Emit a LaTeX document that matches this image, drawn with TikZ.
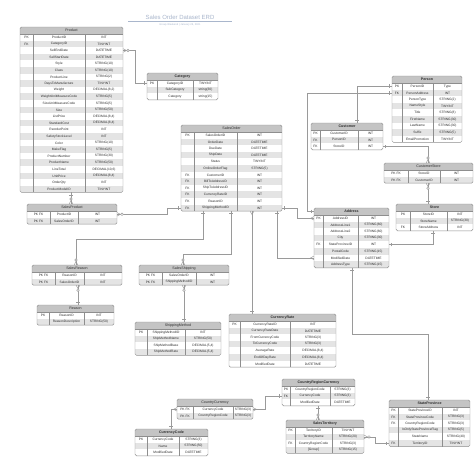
\documentclass[tikz,border=0pt]{standalone}
\usepackage{fontspec}
\setmainfont{Liberation Sans}
\definecolor{framegray}{HTML}{8E8E8E}
\definecolor{headgray}{HTML}{C4C4C4}
\definecolor{rowgray}{HTML}{E4E4E4}
\definecolor{textgray}{HTML}{2E2E2E}
\definecolor{linegray}{HTML}{9A9A9A}
\definecolor{titleblue}{HTML}{A9B6CC}

\tikzset{
  conn/.style={draw=linegray, line width=0.45pt},
  headtext/.style={inner sep=0pt, text=textgray, font=\fontsize{3.6}{4.2}\selectfont},
  celltext/.style={inner sep=0pt, text=textgray, font=\fontsize{3.25}{3.8}\selectfont},
  one/.pic={\draw[conn] (-2.5,-1.8) -- (-2.5,1.8);},
  many/.pic={\draw[conn] (0,-1.8) -- (-3.5,0) -- (0,1.8);},
  zmany/.pic={\draw[conn] (0,-1.8) -- (-3.5,0) -- (0,1.8); \draw[conn, fill=white] (-5,0) circle (1.3);},
}

% name, title, x left, x key|name, x name|type, x right, y top, rows, list
\newcommand{\erdtable}[9]{%
  \pgfmathsetmacro\ytabh{#7+7}%
  \pgfmathsetmacro\ytabb{#7+7+#8*6.6}%
  \begin{scope}
    \clip[rounded corners=1.5] (#3,#7) rectangle (#6,\ytabb);
    \fill[white] (#3,#7) rectangle (#6,\ytabb);
    \fill[headgray] (#3,#7) rectangle (#6,\ytabh);
    \foreach \i in {1,...,#8} {
      \ifodd\i\relax\else
        \fill[rowgray] (#3,{\ytabh+(\i-1)*6.6}) rectangle (#6,{\ytabh+\i*6.6});
      \fi
    }
  \end{scope}
  \draw[framegray, line width=0.35pt] (#4,\ytabh) -- (#4,\ytabb) (#5,\ytabh) -- (#5,\ytabb) (#3,\ytabh) -- (#6,\ytabh);
  \draw[framegray, line width=0.45pt, rounded corners=1.5] (#3,#7) rectangle (#6,\ytabb);
  \node[headtext] (#1) at ({(#3+#6)/2},{#7+3.5}) {#2};
  \coordinate (#1-nw) at (#3,#7);
  \coordinate (#1-sw) at (#3,\ytabb);
  \coordinate (#1-h-w) at (#3,{#7+3.5});
  \foreach \k/\n/\t [count=\i] in {#9} {
    \pgfmathsetmacro\yc{\ytabh+(\i-0.5)*6.6}
    \coordinate (#1-r\i-w) at (#3,\yc);
    \coordinate (#1-r\i-e) at (#6,\yc);
    \node[celltext] (#1-k\i) at ({(#3+#4)/2},\yc) {\k};
    \node[celltext] (#1-n\i) at ({(#4+#5)/2},\yc) {\n};
    \node[celltext] (#1-t\i) at ({(#5+#6)/2},\yc) {\t};
  }
}

\begin{document}
\begin{tikzpicture}[x=1pt, y=-1pt]
  \useasboundingbox[fill=white] (0,0) rectangle (474,470);

  % the title
  \node[font=\fontsize{6}{7}\selectfont, text=titleblue] (title) at (180,17.5) {Sales Order Dataset ERD};
  \coordinate (rule-l) at (128,21.5);
  \coordinate (rule-r) at (232,21.5);
  \draw[titleblue, line width=0.5pt] (rule-l) -- (rule-r);
  \node[font=\fontsize{2.6}{3}\selectfont, text=titleblue] (subtitle) at (180,25) {Group Weekend \textbar{} January 26, 2021};

  % the tables
  \erdtable{Product}{Product}{20}{33}{85}{123}{27}{24}{PK/ProductID/INT, FK/CategoryID/TINYINT, /SellEndDate/DATETIME, /SellStartDate/DATETIME, /Style/STRING(10), /Class/STRING(10), /ProductLine/STRING(2), /DaysToManufacture/TINYINT, /Weight/{DECIMAL(8,2)}, /WeightUnitMeasureCode/STRING(5), /SizeUnitMeasureCode/STRING(5), /Size/STRING(50), /ListPrice/{DECIMAL(8,4)}, /StandardCost/{DECIMAL(8,4)}, /ReorderPoint/INT, /SafetyStockLevel/INT, /Color/STRING(10), /MakeFlag/STRING(5), /ProductNumber/STRING(30), /ProductName/STRING(50), /LineTotal/{DECIMAL(10,6)}, /UnitPrice/{DECIMAL(8,4)}, /OrderQty/INT, /ProductModelID/TINYINT}
  \erdtable{Category}{\textbf{Category}}{147}{157}{193}{218}{73}{3}{PK/CategoryID/TINYINT, /SubCategory/string(30), /Category/string(15)}
  \erdtable{SalesOrder}{SalesOrder}{181}{194}{237}{282}{125}{12}{PK/SalesOrderID/INT, /OrderDate/DATETIME, /DueDate/DATETIME, /ShipDate/DATETIME, /Status/TINYINT, /OnlineOrderFlag/STRING(5), FK/CustomerID/INT, FK/BillToAddressID/INT, FK/ShipToAddressID/INT, FK/CurrencyRateID/INT, FK/ReasonID/INT, FK/ShippingMethodID/INT}
  \erdtable{Person}{\textbf{Person}}{392}{402}{433}{462}{76}{9}{PK/PersonID/Type, FK/PersonAddress/INT, /PersonType/STRING(2), /NameStyle/TINYINT, /Title/STRING(8), /FirstName/STRING(30), /LastName/STRING(30), /Suffix/STRING(5), /EmailPromotion/TINYINT}
  \erdtable{Customer}{\textbf{Customer}}{311}{320}{358}{383}{123}{3}{PK/CustomerID/INT, FK/PersonID/INT, FK/StoreID/INT}
  \erdtable{CustomerStore}{CustomerStore}{384}{408}{440}{473}{163}{2}{PK FK/StoreID/INT, PK FK/CustomerID/INT}
  \erdtable{Store}{\textbf{Store}}{396}{410}{447}{473}{204}{3}{PK/StoreID/INT, /StoreName/STRING(30), FK/StoreAddress/INT}
  \erdtable{Address}{\textbf{Address}}{314}{323}{358}{389}{208}{8}{PK/AddressID/INT, /AddressLine1/STRING(60), /AddressLine2/STRING(60), /City/STRING(30), FK/StateProvinceID/INT, /PostalCode/STRING(15), /ModifiedDate/DATETIME, /AddressType/STRING(15)}
  \erdtable{SalesProduct}{SalesProduct}{27}{50}{78}{117}{204}{2}{PK FK/ProductID/INT, PK FK/SalesOrderID/INT}
  \erdtable{SalesReason}{SalesReason}{32}{55}{84}{122}{265}{2}{PK FK/ReasonID/INT, PK FK/SalesOrderID/INT}
  \erdtable{Reason}{Reason}{37}{49}{84}{114}{305}{2}{PK/ReasonID/INT, /ReasonDescription/STRING(50)}
  \erdtable{SalesShipping}{SalesShipping}{139}{162}{196}{229}{265}{2}{PK FK/SalesOrderID/INT, PK FK/ShippingMethodID/INT}
  \erdtable{ShippingMethod}{ShippingMethod}{135}{147}{185}{221}{322}{4}{PK/ShippingMethodID/INT, /ShipMethodName/STRING(50), /ShipMethodBase/{DECIMAL(5,4)}, /ShipMethodRate/{DECIMAL(5,4)}}
  \erdtable{CurrencyRate}{\textbf{CurrencyRate}}{229}{240}{290}{336}{314}{7}{PK/CurrencyRateID/INT, /CurrencyRateDate/DATETIME, /FromCurrencyCode/STRING(3), /ToCurrencyCode/STRING(3), /AverageRate/{DECIMAL(8,4)}, /EndOfDayRate/{DECIMAL(8,4)}, /ModifiedDate/DATETIME}
  \erdtable{CountryCurrency}{CountryCurrency}{177}{193}{233}{253}{399}{2}{PK FK/CurrencyCode/STRING(3), PK FK/CountryRegionCode/STRING(3)}
  \erdtable{CountryRegionCurrency}{\textbf{CountryRegionCurrency}}{282}{290}{330}{355}{379}{3}{PK/CountryRegionCode/STRING(3), FK/CurrencyCode/STRING(3), /ModifiedDate/DATETIME}
  \erdtable{SalesTerritory}{\textbf{SalesTerritory}}{286}{295}{332}{364}{420}{4}{PK/TerritoryID/TINYINT, /TerritoryName/STRING(20), FK/CountryRegionCode/STRING(3), /[Group]/STRING(15)}
  \erdtable{StateProvince}{\textbf{StateProvince}}{389}{398}{442}{470}{400}{6}{PK/StateProvinceID/INT, FK/StateProvinceCode/STRING(3), FK/CountryRegionCode/STRING(3), /IsOnlyStateProvinceFlag/STRING(5), /StateName/STRING(40), FK/TerritoryID/TINYINT}
  \erdtable{CurrencyCode}{\textbf{CurrencyCode}}{135}{147}{179}{208}{429}{3}{PK/CurrencyCode/STRING(3), /Name/STRING(50), /ModifiedDate/DATETIME}

  % relations
  \draw[conn] (Product-r3-e) -- ++(12,0) |- (Category-r1-w);
  \pic[rotate=180] at (Product-r3-e) {zmany};
  \pic at (Category-r1-w) {one};

  \draw[conn] ([xshift=51]Product-sw) -- ([xshift=44]SalesProduct-nw);
  \pic[rotate=90] at ([xshift=51]Product-sw) {one};
  \pic[rotate=-90] at ([xshift=44]SalesProduct-nw) {zmany};

  \draw[conn] (SalesProduct-r1-e) -- ++(50,0) |- (SalesOrder-r12-w);
  \pic[rotate=180] at (SalesProduct-r1-e) {zmany};
  \pic at (SalesOrder-r12-w) {one};

  \draw[conn] ([xshift=22]SalesOrder-sw) -- ++(0,28) -| ([xshift=44]SalesReason-nw);
  \pic[rotate=90] at ([xshift=22]SalesOrder-sw) {one};
  \pic[rotate=-90] at ([xshift=44]SalesReason-nw) {zmany};

  \draw[conn] ([xshift=50]SalesOrder-sw) -- ++(0,43) -| ([xshift=44]SalesShipping-nw);
  \pic[rotate=90] at ([xshift=50]SalesOrder-sw) {one};
  \pic[rotate=-90] at ([xshift=44]SalesShipping-nw) {zmany};

  \draw[conn] ([xshift=45]SalesShipping-sw) -- ([xshift=49]ShippingMethod-nw);
  \pic[rotate=90] at ([xshift=45]SalesShipping-sw) {zmany};
  \pic[rotate=-90] at ([xshift=49]ShippingMethod-nw) {one};

  \draw[conn] ([xshift=46]SalesReason-sw) -- ([xshift=41]Reason-nw);
  \pic[rotate=90] at ([xshift=46]SalesReason-sw) {zmany};
  \pic[rotate=-90] at ([xshift=41]Reason-nw) {one};

  \draw[conn] ([xshift=71]SalesOrder-sw) -- ([xshift=23]CurrencyRate-nw);
  \pic[rotate=90] at ([xshift=71]SalesOrder-sw) {many};
  \pic[rotate=-90] at ([xshift=23]CurrencyRate-nw) {one};

  \draw[conn] ([xshift=96]SalesOrder-sw) |- (Address-r7-w);
  \pic[rotate=90] at ([xshift=96]SalesOrder-sw) {one};
  \pic at (Address-r7-w) {many};

  \draw[conn] (SalesOrder-r12-e) -- ++(15,0) |- (Address-r1-w);
  \pic[rotate=180] at (SalesOrder-r12-e) {one};
  \pic at (Address-r1-w) {many};

  \draw[conn] (Person-r1-w) -| ([xshift=46]Customer-nw);
  \pic at (Person-r1-w) {one};
  \pic[rotate=-90] at ([xshift=46]Customer-nw) {one};

  \draw[conn] (Person-r2-w) -| ([xshift=-7]Address-h-w) -- (Address-h-w);
  \pic at (Person-r2-w) {one};
  \pic at (Address-h-w) {one};

  \draw[conn] (Customer-r3-e) -| ([xshift=44]CustomerStore-nw);
  \pic[rotate=180] at (Customer-r3-e) {one};
  \pic[rotate=-90] at ([xshift=44]CustomerStore-nw) {zmany};

  \draw[conn] ([xshift=44]CustomerStore-sw) -- ([xshift=32]Store-nw);
  \pic[rotate=90] at ([xshift=44]CustomerStore-sw) {zmany};
  \pic[rotate=-90] at ([xshift=32]Store-nw) {one};

  \draw[conn] ([xshift=37]Store-sw) |- (Address-r5-e);
  \pic[rotate=90] at ([xshift=37]Store-sw) {one};
  \pic[rotate=180] at (Address-r5-e) {one};

  \draw[conn] ([xshift=38]Address-sw) -- ++(0,66) -| ([xshift=39]StateProvince-nw);
  \pic[rotate=90] at ([xshift=38]Address-sw) {one};
  \pic[rotate=-90] at ([xshift=39]StateProvince-nw) {one};

  \draw[conn] (CountryCurrency-r1-e) -- ++(12,0) |- (CountryRegionCurrency-r2-w);
  \pic[rotate=180] at (CountryCurrency-r1-e) {many};
  \pic at (CountryRegionCurrency-r2-w) {one};

  \draw[conn] (CountryCurrency-r1-w) -| ([xshift=36]CurrencyCode-nw);
  \pic at (CountryCurrency-r1-w) {many};
  \pic[rotate=-90] at ([xshift=36]CurrencyCode-nw) {one};

  \draw[conn] ([xshift=36]CountryRegionCurrency-sw) -- ([xshift=32]SalesTerritory-nw);
  \pic[rotate=90] at ([xshift=36]CountryRegionCurrency-sw) {one};
  \pic[rotate=-90] at ([xshift=32]SalesTerritory-nw) {zmany};

  \draw[conn] (SalesTerritory-r2-e) -- ++(11,0) |- (StateProvince-r6-w);
  \pic[rotate=180] at (SalesTerritory-r2-e) {zmany};
  \pic at (StateProvince-r6-w) {one};
\end{tikzpicture}
\end{document}
